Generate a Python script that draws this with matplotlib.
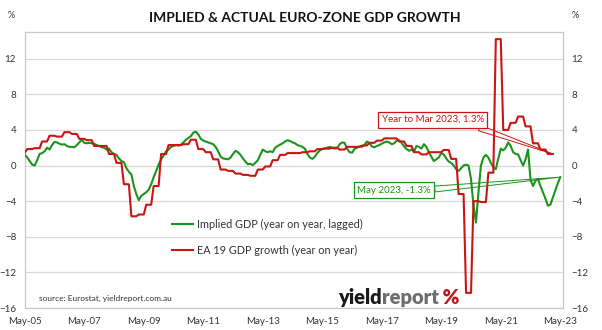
import numpy as np
import matplotlib
matplotlib.use("Agg")
import matplotlib.pyplot as plt

plt.rcParams['font.family'] = ['Lato', 'DejaVu Sans']

# Implied GDP growth (% y/y, lagged), monthly from May 2005 to May 2023
implied_gdp = [
    1.2, 0.9, 0.5, 0.1, 0.0, 0.6, 1.3, 1.4, 1.6, 2.0, 1.8, 2.3,
    2.65, 2.6, 2.45, 2.35, 2.4, 2.2, 2.1, 2.1, 2.05, 2.3, 2.6, 2.9,
    2.55, 2.5, 2.55, 2.5, 2.45, 2.3, 2.2, 2.05, 2.0, 1.8, 1.9, 1.5,
    1.3, 1.2, 0.8, 0.5, 0.4, -0.3, -0.7, -1.0, -2.3, -3.2, -3.9, -3.4,
    -3.2, -3.0, -2.7, -2.1, -1.3, -0.6, 0.1, 0.7, 1.1, 1.6, 1.8, 2.1,
    2.2, 2.3, 2.25, 2.35, 2.6, 2.9, 3.1, 3.3, 3.7, 3.8, 3.5, 3.0,
    2.8, 2.7, 2.6, 2.5, 2.4, 2.1, 1.6, 1.0, 0.8, 0.75, 0.7, 0.9,
    1.3, 1.65, 1.5, 1.2, 0.8, 0.45, 0.15, 0.2, 0.05, 0.3, 0.6, 1.2,
    1.8, 1.6, 1.5, 1.6, 1.5, 2.0, 2.2, 2.35, 2.5, 2.7, 2.85, 2.75,
    2.6, 2.5, 2.3, 2.2, 2.1, 1.9, 1.3, 0.9, 0.75, 1.0, 1.4, 1.7,
    1.85, 1.95, 2.0, 2.1, 2.0, 1.9, 1.95, 2.4, 2.6, 2.55, 1.9, 1.5,
    1.45, 1.85, 2.0, 2.15, 2.1, 2.3, 2.7, 2.55, 2.15, 2.05, 2.2, 2.3,
    2.45, 2.6, 2.7, 2.6, 2.4, 2.5, 2.8, 2.85, 2.55, 2.15, 1.85, 1.65,
    1.8, 1.55, 2.2, 2.1, 1.9, 2.4, 2.1, 1.5, 1.0, 0.5, 0.7, 0.9,
    1.4, 1.25, 0.8, 0.45, 0.3, 0.0, -0.4, -0.6, -0.3, 0.0, 0.1, 0.0,
    -1.5, -4.5, -6.4, -3.0, 0.0, 0.9, 1.2, 0.9, 0.3, -0.2, -0.4, 0.8,
    1.9, 1.7, 2.0, 2.6, 2.2, 1.5, 1.3, 1.25, 0.6, 0.0, 0.7, 1.8,
    -1.6, -2.3, -1.7, -1.5, -2.3, -3.0, -3.7, -4.5, -4.4, -3.6, -2.8, -2.0,
    -1.3,
]

# EA19 GDP growth (% y/y), quarterly from Q2 2005 to Q1 2023
ea19_gdp = [
    1.45, 1.85, 1.95,
    2.7, 3.35, 3.25, 3.75,
    3.55, 3.0, 2.85, 2.2,
    2.2, 1.3, 0.3, -2.1,
    -5.7, -5.5, -4.4, -2.3,
    1.3, 2.3, 2.3, 2.4,
    2.9, 1.85, 1.5, 0.7,
    -0.45, -0.6, -0.9, -1.05,
    -1.15, -0.45, -0.1, 0.6,
    1.2, 1.4, 1.4, 1.5,
    1.6, 1.85, 1.9, 2.0,
    1.8, 2.1, 2.1, 2.25,
    2.55, 2.8, 3.05, 3.05,
    2.7, 2.2, 1.5, 1.25,
    1.5, 1.5, 1.75, 0.75,
    -3.2, -14.3, -4.0, -4.1,
    -0.8, 14.2, 4.0, 4.8,
    5.5, 4.4, 2.5, 1.8,
    1.3,
]

x_tick_labels = ["May-05", "May-07", "May-09", "May-11", "May-13",
                 "May-15", "May-17", "May-19", "May-21", "May-23"]
y_ticks = [-16, -12, -8, -4, 0, 4, 8, 12]

GREEN = "#1c931c"
RED = "#cc1414"
TEXT = "#333333"
GRID = "#d9d9d9"

months = np.arange(len(implied_gdp))
# quarterly figures held flat over the months they cover (first quarter only partly in range)
red_monthly = np.repeat(ea19_gdp, [1] + [3] * (len(ea19_gdp) - 1))
red_x = np.arange(len(red_monthly))

fig = plt.figure(figsize=(6.02, 3.30), dpi=100)
ax = fig.add_axes([24.5 / 602, 22 / 330, 538.5 / 602, 276 / 330])

l_green, = ax.plot(months, implied_gdp, color=GREEN, lw=1.5,
                   label="Implied GDP (year on year, lagged)", zorder=3)
l_red, = ax.plot(red_x, red_monthly, color=RED, lw=1.5,
                 label="EA 19 GDP growth (year on year)", zorder=3)

ax.set_xlim(-0.1, len(implied_gdp) + 0.1)
ax.set_ylim(-16, 15)
ax.set_xticks(np.arange(0, len(implied_gdp), 24))
ax.set_xticklabels(x_tick_labels)
ax.set_yticks(y_ticks)
ax.tick_params(axis='both', length=0, labelsize=7, labelcolor=TEXT)
ax.tick_params(axis='y', labelleft=True, labelright=True, pad=6.0)
ax.tick_params(axis='x', pad=6.5)
ax.yaxis.grid(True, color=GRID, lw=0.9)
ax.set_axisbelow(True)
for sp in ax.spines.values():
    sp.set_color("#c8c8c8")
    sp.set_linewidth(0.9)

# percent unit markers above both value axes
fig.text(11 / 602, 1 - 16 / 330, "%", fontsize=6.5, color=TEXT, ha='center', va='center')
fig.text(575 / 602, 1 - 16 / 330, "%", fontsize=6.5, color=TEXT, ha='center', va='center')

fig.text(305 / 602, 1 - 18 / 330, "IMPLIED & ACTUAL EURO-ZONE GDP GROWTH",
         fontsize=10, fontweight='bold', color='#111111', ha='center', va='center')

ax.legend(handles=[l_green, l_red], loc='upper left',
          bbox_to_anchor=(171.7 / 602, 1 - 218.5 / 330), bbox_transform=fig.transFigure,
          frameon=False, fontsize=7.8, handlelength=2.0, handletextpad=0.3,
          labelspacing=1.43, borderpad=0, borderaxespad=0, labelcolor=TEXT)

# callouts on the latest observations
last_m = months[-1]
ax.annotate(f"May 2023, {implied_gdp[-1]:.1f}%", xy=(last_m, implied_gdp[-1]),
            xytext=(149.0, -2.78), textcoords='data', ha='center', va='center',
            fontsize=7, color=GREEN,
            bbox=dict(boxstyle='square,pad=0.35', fc='white', ec=GREEN, lw=0.9),
            arrowprops=dict(arrowstyle='wedge,tail_width=0.6,shrink_factor=0.5',
                            fc='none', ec=GREEN, lw=0.7, relpos=(1.0, 0.6),
                            shrinkA=0, shrinkB=0),
            zorder=5)
ax.annotate(f"Year to Mar 2023, {ea19_gdp[-1]:.1f}%", xy=(red_x[-1], red_monthly[-1]),
            xytext=(164.6, 5.16), textcoords='data', ha='center', va='center',
            fontsize=7, color=RED,
            bbox=dict(boxstyle='square,pad=0.35', fc='white', ec=RED, lw=0.9),
            arrowprops=dict(arrowstyle='wedge,tail_width=0.6,shrink_factor=0.5',
                            fc='none', ec=RED, lw=0.7, relpos=(0.85, 0.0),
                            shrinkA=0, shrinkB=0),
            zorder=5)

fig.text(39 / 602, 1 - 298 / 330, "source: Eurostat, yieldreport.com.au",
         fontsize=6, color=TEXT, ha='left', va='center')

# yieldreport wordmark
t1 = fig.text(338 / 602, 1 - 304 / 330, "yield", fontsize=14.5, fontweight='heavy',
              color='#1a1a1a', ha='left', va='baseline')
t2 = ax.annotate("report", xy=(1, 0), xycoords=t1, xytext=(0, 0), textcoords='offset points',
                 fontsize=14.5, fontweight='heavy', color='#6e6e6e', ha='left', va='bottom')
ax.annotate(" %", xy=(1, 0), xycoords=t2, fontsize=14.5, fontweight='heavy',
            color='#c0141c', ha='left', va='bottom')

fig.savefig("out.png", dpi=100)
